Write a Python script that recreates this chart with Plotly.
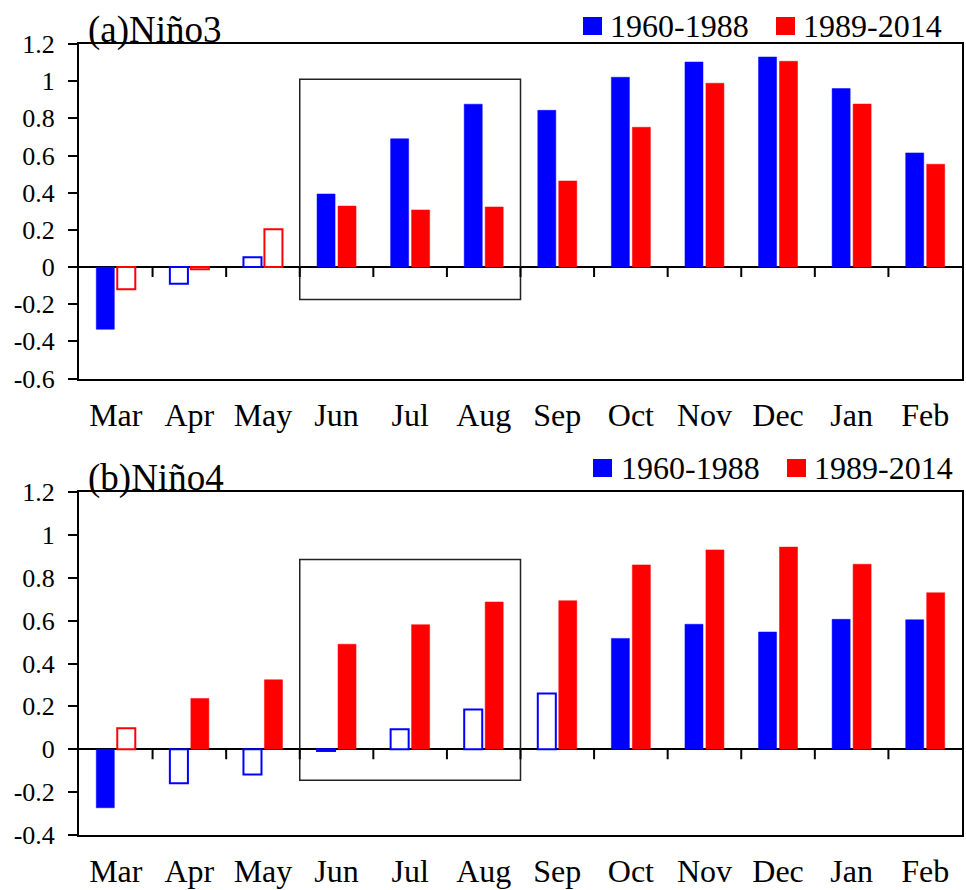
import plotly.graph_objects as go

# ---- data -------------------------------------------------------------
months = ["Mar", "Apr", "May", "Jun", "Jul", "Aug",
          "Sep", "Oct", "Nov", "Dec", "Jan", "Feb"]
series_names = ["1960-1988", "1989-2014"]
panel_titles = ["(a)Niño3", "(b)Niño4"]

nino3_early = [-0.335, -0.09, 0.052, 0.393, 0.69, 0.876,
               0.843, 1.021, 1.103, 1.13, 0.96, 0.614]
nino3_late = [-0.12, -0.012, 0.203, 0.328, 0.307, 0.323,
              0.463, 0.752, 0.989, 1.107, 0.877, 0.553]
# filled = significant, hollow = not significant
nino3_early_filled = [True, False, False, True, True, True,
                      True, True, True, True, True, True]
nino3_late_filled = [False, False, False, True, True, True,
                     True, True, True, True, True, True]

nino4_early = [-0.273, -0.159, -0.118, -0.008, 0.093, 0.185,
               0.26, 0.517, 0.583, 0.547, 0.606, 0.604]
nino4_late = [0.098, 0.237, 0.324, 0.49, 0.581, 0.687,
              0.693, 0.86, 0.93, 0.943, 0.863, 0.73]
nino4_early_filled = [True, False, False, False, False, False,
                      False, True, True, True, True, True]
nino4_late_filled = [False, True, True, True, True, True,
                     True, True, True, True, True, True]

nino3_ticks = [-0.6, -0.4, -0.2, 0, 0.2, 0.4, 0.6, 0.8, 1, 1.2]
nino3_ticktext = ["-0.6", "-0.4", "-0.2", "0", "0.2", "0.4",
                  "0.6", "0.8", "1", "1.2"]
nino4_ticks = [-0.4, -0.2, 0, 0.2, 0.4, 0.6, 0.8, 1, 1.2]
nino4_ticktext = ["-0.4", "-0.2", "0", "0.2", "0.4", "0.6",
                  "0.8", "1", "1.2"]

# highlighted season (Jun-Aug) box extents in data units
nino3_box = (-0.175, 1.01)
nino4_box = (-0.145, 0.885)

# ---- style ------------------------------------------------------------
BLUE = "#0000ff"
RED = "#ff0000"
FONT = "Liberation Serif, Times New Roman, serif"

W, H = 966, 890
ML, MR, MT, MB = 79, 4, 44, 55
plot_h = H - MT - MB
top_dom = [(H - MB - 378.5) / plot_h, 1.0]
bot_dom = [0.0, (H - MB - 492) / plot_h]


def bar_trace(values, filled, colour, name, xa, ya):
    return go.Bar(
        x=months, y=values, name=name, showlegend=False,
        xaxis=xa, yaxis=ya,
        marker=dict(
            color=[colour if f else "white" for f in filled],
            line=dict(color=colour,
                      width=[0.5 if f else 2 for f in filled]),
        ),
    )


fig = go.Figure()
fig.add_trace(bar_trace(nino3_early, nino3_early_filled, BLUE, series_names[0], "x", "y"))
fig.add_trace(bar_trace(nino3_late, nino3_late_filled, RED, series_names[1], "x", "y"))
fig.add_trace(bar_trace(nino4_early, nino4_early_filled, BLUE, series_names[0], "x2", "y2"))
fig.add_trace(bar_trace(nino4_late, nino4_late_filled, RED, series_names[1], "x2", "y2"))

xaxis_common = dict(
    type="category", range=[-0.5, len(months) - 0.5],
    showline=True, linecolor="black", linewidth=2, mirror=True,
    ticks="", showgrid=False, zeroline=False, automargin=False,
    tickfont=dict(family=FONT, size=32, color="black"),
    ticklabelstandoff=7,
)
yaxis_common = dict(
    showline=True, linecolor="black", linewidth=2, mirror=True,
    ticks="outside", ticklen=9, tickwidth=2, tickcolor="black",
    showgrid=False, zeroline=True, zerolinecolor="black", zerolinewidth=2,
    automargin=False,
    tickfont=dict(family=FONT, size=26, color="black"),
    ticklabelstandoff=8,
)

fig.update_layout(
    width=W, height=H,
    margin=dict(l=ML, r=MR, t=MT, b=MB, autoexpand=False),
    paper_bgcolor="white", plot_bgcolor="white",
    barmode="group", bargap=0.43, bargroupgap=0.14,
    xaxis=dict(domain=[0, 1], anchor="y", **xaxis_common),
    yaxis=dict(domain=top_dom, anchor="x", range=[-0.6, 1.2],
               tickvals=nino3_ticks, ticktext=nino3_ticktext, **yaxis_common),
    xaxis2=dict(domain=[0, 1], anchor="y2", **xaxis_common),
    yaxis2=dict(domain=bot_dom, anchor="x2", range=[-0.4, 1.2],
                tickvals=nino4_ticks, ticktext=nino4_ticktext, **yaxis_common),
)

shapes = []
annotations = []

for xref, yref, box in (("x", "y", nino3_box), ("x2", "y2", nino4_box)):
    # Jun-Aug box
    shapes.append(dict(type="rect", xref=xref, yref=yref,
                       x0=months.index("Jun") - 0.5, x1=months.index("Aug") + 0.5,
                       y0=box[0], y1=box[1],
                       line=dict(color="#222222", width=1.5),
                       fillcolor="rgba(0,0,0,0)", layer="above"))
    # month separator ticks hanging below the zero line
    for i in range(len(months) - 1):
        shapes.append(dict(type="line", xref=xref, yref=yref,
                           ysizemode="pixel", yanchor=0,
                           x0=i + 0.5, x1=i + 0.5, y0=0, y1=-10,
                           line=dict(color="black", width=2)))


def px_x(px):
    return (px - ML) / (W - ML - MR)


def px_y(py):
    return (H - MB - py) / plot_h


# panel titles
for title, base_px in zip(panel_titles, (44, 492)):
    annotations.append(dict(text=title, xref="paper", yref="paper",
                            x=px_x(86), y=px_y(base_px), xanchor="left",
                            yanchor="bottom", yshift=-9, showarrow=False,
                            font=dict(family=FONT, size=37, color="black")))

# legend entries for each panel
legend_rows = [
    (26, [(583, 608, BLUE), (776, 801, RED)]),
    (468, [(593, 619, BLUE), (787, 812, RED)]),
]
for cy, entries in legend_rows:
    for (sq_x, txt_x, colour), name in zip(entries, series_names):
        shapes.append(dict(type="rect", xref="paper", yref="paper",
                           x0=px_x(sq_x), x1=px_x(sq_x + 19),
                           y0=px_y(cy + 9), y1=px_y(cy - 9),
                           fillcolor=colour, line=dict(width=0)))
        annotations.append(dict(text=name, xref="paper", yref="paper",
                                x=px_x(txt_x), y=px_y(cy), xanchor="left",
                                yanchor="middle", showarrow=False,
                                font=dict(family=FONT, size=32, color="black")))

fig.update_layout(shapes=shapes, annotations=annotations)

fig.write_html("out.html")
